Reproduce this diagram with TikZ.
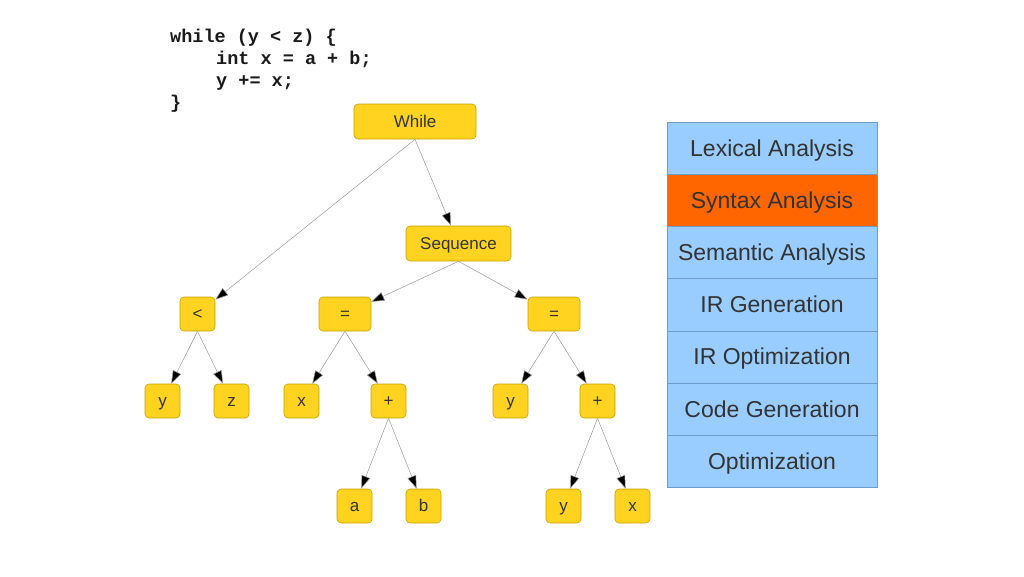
\documentclass[tikz,border=0pt]{standalone}
\usepackage{fontspec}
\setmainfont{Liberation Sans}
\newfontfamily\codefont{Liberation Mono}
\usetikzlibrary{arrows.meta}
\definecolor{nodefill}{HTML}{FFD320}
\definecolor{nodeline}{HTML}{C9A000}
\definecolor{stagefill}{HTML}{99CCFF}
\definecolor{stageline}{HTML}{6E9CCB}
\definecolor{stageact}{HTML}{FF6600}
\definecolor{txt}{HTML}{333333}
\tikzset{
  ast/.style={draw=nodeline, fill=nodefill, rounded corners=4pt, line width=0.6pt,
    inner sep=0pt, text=txt, font=\fontsize{17}{19}\selectfont,
    text height=15.3pt, text depth=3.4pt},
  small/.style={ast, minimum width=35pt, minimum height=34pt},
  wide/.style={ast, minimum width=52pt, minimum height=34pt},
  edge/.style={draw=gray!80, line width=0.5pt, -{Triangle[length=13pt,width=9pt,fill=black]}},
  stage/.style={draw=stageline, fill=stagefill, line width=0.5pt, minimum width=210pt,
    minimum height=52.2pt, inner sep=0pt, text=txt, font=\fontsize{23}{27}\selectfont,
    text height=20.7pt, text depth=4.6pt},
  codeline/.style={anchor=base west, inner sep=0pt, text=black!90, font=\codefont\bfseries\fontsize{18.5}{22}\selectfont}
}
\begin{document}
\begin{tikzpicture}[x=1pt,y=-1pt]
\useasboundingbox (0,0) rectangle (1024,576);
% code
\node[codeline] (c1) at (170,42) {while (y < z) \{};
\node[codeline] (c2) at (216,64) {int x = a + b;};
\node[codeline] (c3) at (216,86) {y += x;};
\node[codeline] (c4) at (170,108) {\}};
% AST
\node[ast, minimum width=122pt, minimum height=35pt] (while) at (415,121.5) {While};
\node[ast, minimum width=105pt, minimum height=35pt] (seq) at (458.5,243.5) {Sequence};
\node[small] (lt) at (197.5,314) {<};
\node[wide] (eq1) at (345,314) {=};
\node[wide] (eq2) at (554,314) {=};
\node[small] (y1) at (162.5,401) {y};
\node[small] (z1) at (231.5,401) {z};
\node[small] (x1) at (301.5,401) {x};
\node[small] (p1) at (388.5,401) {+};
\node[small] (y2) at (510.5,401) {y};
\node[small] (p2) at (597.5,401) {+};
\node[small] (a1) at (354.5,506) {a};
\node[small] (b1) at (423.5,506) {b};
\node[small] (y3) at (563.5,506) {y};
\node[small] (x2) at (632.5,506) {x};
\foreach \p/\c in {while/lt, while/seq, seq/eq1, seq/eq2, lt/y1, lt/z1, eq1/x1, eq1/p1,
  eq2/y2, eq2/p2, p1/a1, p1/b1, p2/y3, p2/x2}
  \draw[edge] (\p.south) -- (\c);
% pipeline
\node[stage] (s1) at (772,148.1) {Lexical Analysis};
\node[stage, fill=stageact] (s2) at (772,200.3) {Syntax Analysis};
\node[stage] (s3) at (772,252.5) {Semantic Analysis};
\node[stage] (s4) at (772,304.7) {IR Generation};
\node[stage] (s5) at (772,356.9) {IR Optimization};
\node[stage] (s6) at (772,409.1) {Code Generation};
\node[stage] (s7) at (772,461.3) {Optimization};
\end{tikzpicture}
\end{document}
